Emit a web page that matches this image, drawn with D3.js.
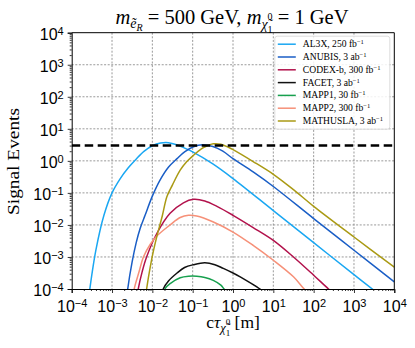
<!DOCTYPE html>
<html>
<head>
<meta charset="utf-8">
<script src="https://cdn.jsdelivr.net/npm/d3@7"></script>
<style>
  body { margin: 0; background: #fff; }
  svg { font-family: "Liberation Serif", "DejaVu Serif", serif; }
</style>
</head>
<body>
<div id="chart"></div>
<script>
// series: c*tau [m] and signal events
const seriesNames = ["AL3X", "ANUBIS", "CODEX-b", "FACET", "MAPP1", "MAPP2", "MATHUSLA"];
const seriesLumi = ["250 fb", "3 ab", "300 fb", "3 ab", "30 fb", "300 fb", "3 ab"];
const seriesColors = ["#1aa7f2", "#1a5ec6", "#b2124c", "#111111", "#17a04e", "#f69078", "#aa9a14"];

const al3xCtau = [2.5e-4, 3.16e-4, 4.0e-4, 6.3e-4, 1e-3, 1.6e-3, 2.5e-3, 4.0e-3, 6.3e-3, 0.01, 0.016, 0.025, 0.04, 0.063, 0.1, 0.316, 1, 10, 100, 1000, 3200];
const al3xEvents = [3.2e-5, 2.8e-4, 1.7e-3, 0.02, 0.1, 0.28, 0.6, 1.15, 2.0, 2.95, 3.6, 3.7, 3.2, 2.5, 1.9, 0.8, 0.28, 0.028, 2.8e-3, 2.8e-4, 8.9e-5];

const anubisCtau = [2.0e-3, 2.45e-3, 3.16e-3, 3.98e-3, 5.0e-3, 6.6e-3, 0.01, 0.0155, 0.025, 0.041, 0.063, 0.105, 0.178, 0.316, 0.56, 1, 3.16, 10, 100, 1000, 10000];
const anubisEvents = [1e-5, 1e-4, 7.1e-4, 2.8e-3, 7.9e-3, 0.02, 0.079, 0.25, 0.63, 1.17, 1.9, 2.75, 3.16, 2.8, 2.0, 1.17, 0.45, 0.158, 0.0158, 1.62e-3, 1.66e-4];

const codexCtau = [3.55e-3, 4.47e-3, 5.6e-3, 7.2e-3, 0.0129, 0.0275, 0.059, 0.105, 0.2, 0.4, 1, 3.16, 10, 31.6, 100, 234, 400];
const codexEvents = [1e-5, 1e-4, 3.5e-4, 1e-3, 5.4e-3, 0.023, 0.049, 0.063, 0.056, 0.038, 0.02, 8.3e-3, 3.3e-3, 1e-3, 2.7e-4, 1e-4, 5.6e-5];

const facetCtau = [0.0166, 0.0186, 0.0251, 0.041, 0.063, 0.105, 0.2, 0.355, 0.575, 1, 1.51, 2.82, 4.68, 6.3];
const facetEvents = [5e-5, 1e-4, 1.78e-4, 3.16e-4, 4.7e-4, 5.75e-4, 6.6e-4, 5.75e-4, 4.4e-4, 3.16e-4, 2.4e-4, 1.5e-4, 1e-4, 7.6e-5];

const mapp1Ctau = [0.0178, 0.0204, 0.0282, 0.049, 0.079, 0.126, 0.2, 0.324, 0.5, 0.6, 0.71];
const mapp1Events = [5e-5, 1e-4, 1.5e-4, 2.24e-4, 2.5e-4, 2.5e-4, 2.3e-4, 1.86e-4, 1.32e-4, 1e-4, 7.9e-5];

const mapp2Ctau = [2.8e-3, 3.55e-3, 4.7e-3, 6.0e-3, 8.9e-3, 0.0129, 0.0275, 0.049, 0.079, 0.126, 0.316, 1, 3.16, 10, 31.6, 56, 89];
const mapp2Events = [1e-5, 1e-4, 3.5e-4, 1e-3, 2.5e-3, 4.5e-3, 0.01, 0.017, 0.02, 0.019, 0.0126, 6.0e-3, 2.3e-3, 7.9e-4, 2.4e-4, 1.05e-4, 5.6e-5];

const mathuslaCtau = [6.0e-3, 7.2e-3, 8.9e-3, 0.0107, 0.0129, 0.0178, 0.0229, 0.0316, 0.049, 0.0708, 0.105, 0.158, 0.224, 0.324, 0.5, 0.794, 1, 3.16, 10, 31.6, 100, 1000, 10000];
const mathuslaEvents = [1.6e-5, 1e-4, 5e-4, 1.6e-3, 4.3e-3, 0.02, 0.076, 0.178, 0.51, 0.93, 1.5, 2.3, 2.9, 3.4, 3.3, 2.6, 2.24, 0.95, 0.38, 0.126, 0.038, 4.2e-3, 4.8e-4];

const seriesCtau = [al3xCtau, anubisCtau, codexCtau, facetCtau, mapp1Ctau, mapp2Ctau, mathuslaCtau];
const seriesEvents = [al3xEvents, anubisEvents, codexEvents, facetEvents, mapp1Events, mapp2Events, mathuslaEvents];

const eventThreshold = 3;
const xDomain = [1e-4, 1e4];
const yDomain = [1e-4, 1e4];
const tickExponents = [-4, -3, -2, -1, 0, 1, 2, 3, 4];

const config = {div: "#chart", width: 415, height: 348, left: 71.7, top: 32.7, right: 20.7, bottom: 59};
const innerW = config.width - config.left - config.right;
const innerH = config.height - config.top - config.bottom;

const svg = d3.select(config.div).append("svg")
  .attr("width", config.width)
  .attr("height", config.height);

const g = svg.append("g").attr("transform", `translate(${config.left},${config.top})`);

const xScale = d3.scaleLog().domain(xDomain).range([0, innerW]);
const yScale = d3.scaleLog().domain(yDomain).range([innerH, 0]);

const majorTicks = tickExponents.map(e => Math.pow(10, e));
const minorTicks = [];
tickExponents.slice(0, -1).forEach(e => {
  for (let m = 2; m < 10; m++) minorTicks.push(m * Math.pow(10, e));
});

// grid
g.append("g").selectAll("line").data(majorTicks.slice(1, -1)).enter().append("line")
  .attr("x1", d => xScale(d)).attr("x2", d => xScale(d))
  .attr("y1", 0).attr("y2", innerH)
  .attr("stroke", "#808080").attr("stroke-width", 0.8).attr("stroke-dasharray", "2,1.6");
g.append("g").selectAll("line").data(majorTicks.slice(1, -1)).enter().append("line")
  .attr("y1", d => yScale(d)).attr("y2", d => yScale(d))
  .attr("x1", 0).attr("x2", innerW)
  .attr("stroke", "#808080").attr("stroke-width", 0.8).attr("stroke-dasharray", "2,1.6");

// curves
svg.append("defs").append("clipPath").attr("id", "plotClip")
  .append("rect").attr("width", innerW).attr("height", innerH);

const line = d3.line()
  .x(d => xScale(d[0]))
  .y(d => yScale(d[1]))
  .curve(d3.curveCatmullRom.alpha(0.5));

const curves = g.append("g").attr("clip-path", "url(#plotClip)");
seriesNames.forEach((name, i) => {
  const pts = seriesCtau[i].map((c, j) => [c, seriesEvents[i][j]]);
  curves.append("path")
    .attr("d", line(pts))
    .attr("fill", "none")
    .attr("stroke", seriesColors[i])
    .attr("stroke-width", 1.5);
});

curves.append("line")
  .attr("x1", xScale(xDomain[0])).attr("x2", xScale(xDomain[1]))
  .attr("y1", yScale(eventThreshold)).attr("y2", yScale(eventThreshold))
  .attr("stroke", "#000").attr("stroke-width", 2.6).attr("stroke-dasharray", "8.5,4.5");

// axes
function supLabel(sel, anchor) {
  sel.each(function(d) {
    const t = d3.select(this);
    const e = Math.round(Math.log10(d));
    t.text(null).attr("text-anchor", anchor).attr("fill", "#000");
    t.append("tspan").text("10");
    t.append("tspan").attr("dy", "-0.45em").attr("font-size", "11px")
      .text(e < 0 ? "\u2212" + (-e) : String(e));
  });
}

const xAxis = g.append("g").attr("transform", `translate(0,${innerH})`)
  .call(d3.axisBottom(xScale).tickValues(majorTicks).tickSize(4).tickPadding(3));
xAxis.selectAll(".tick text").attr("font-size", "16px").attr("dy", "1.0em").call(supLabel, "middle");
g.append("g").attr("transform", `translate(0,${innerH})`)
  .call(d3.axisBottom(xScale).tickValues(minorTicks).tickSize(2).tickFormat(""))
  .select(".domain").remove();

const yAxis = g.append("g")
  .call(d3.axisLeft(yScale).tickValues(majorTicks).tickSize(4).tickPadding(4));
yAxis.selectAll(".tick text").attr("font-size", "16px").attr("dy", "0.42em").call(supLabel, "end");
g.append("g")
  .call(d3.axisLeft(yScale).tickValues(minorTicks).tickSize(2).tickFormat(""))
  .select(".domain").remove();

g.selectAll(".domain").attr("stroke", "#000").attr("stroke-width", 1);
g.selectAll(".tick line").attr("stroke", "#000").attr("stroke-width", 0.8);

// frame top and right
g.append("line").attr("x1", 0).attr("x2", innerW).attr("y1", 0).attr("y2", 0).attr("stroke", "#000");
g.append("line").attr("x1", innerW).attr("x2", innerW).attr("y1", 0).attr("y2", innerH).attr("stroke", "#000");

// legend
const legend = g.append("g").attr("transform", `translate(${innerW - 119.5},3.5)`);
legend.append("rect")
  .attr("width", 115).attr("height", 93).attr("rx", 2.5)
  .attr("fill", "#fff").attr("fill-opacity", 0.85)
  .attr("stroke", "#d4d4d4").attr("stroke-width", 0.8);
seriesNames.forEach((name, i) => {
  const row = legend.append("g").attr("transform", `translate(0,${8 + i * 12.8})`);
  row.append("line").attr("x1", 3).attr("x2", 21).attr("y1", 0).attr("y2", 0)
    .attr("stroke", seriesColors[i]).attr("stroke-width", 1.5);
  const t = row.append("text").attr("x", 28).attr("y", 3).attr("font-size", "9.6px");
  t.append("tspan").text(`${name}, ${seriesLumi[i]}`);
  t.append("tspan").attr("dy", "-0.45em").attr("font-size", "6.6px").text("\u22121");
});

// title
const title = svg.append("text").attr("x", 232).attr("y", 24).attr("text-anchor", "middle")
  .attr("font-size", "20.5px");
title.append("tspan").attr("font-style", "italic").text("m");
title.append("tspan").attr("font-style", "italic").attr("font-size", "14px").attr("dy", 4).text("\u1EBD");
title.append("tspan").attr("font-style", "italic").attr("font-size", "10px").attr("dy", 2.5).text("R");
title.append("tspan").attr("dy", -6.5).text(" = 500 GeV, ");
title.append("tspan").attr("font-style", "italic").text("m");
title.append("tspan").attr("font-style", "italic").attr("font-size", "14px").attr("dy", 5).text("\u03C7\u0303");
title.append("tspan").attr("font-size", "10px").attr("dy", 3.5).text("1");
title.append("tspan").attr("font-size", "10px").attr("dx", -5).attr("dy", -12.5).text("0");
title.append("tspan").attr("dy", 4).text(" = 1 GeV");

// axis labels
const xl = svg.append("text").attr("x", 233).attr("y", 328).attr("text-anchor", "middle")
  .attr("font-size", "17.5px");
xl.append("tspan").text("c");
xl.append("tspan").attr("font-style", "italic").text("\u03C4");
xl.append("tspan").attr("font-style", "italic").attr("font-size", "12.5px").attr("dy", 4).text("\u03C7\u0303");
xl.append("tspan").attr("font-size", "9px").attr("dy", 3.5).text("1");
xl.append("tspan").attr("font-size", "9px").attr("dx", -4.5).attr("dy", -10.5).text("0");
xl.append("tspan").attr("dy", 3).text(" [m]");

svg.append("text")
  .attr("transform", "translate(19,161.5) rotate(-90)")
  .attr("text-anchor", "middle")
  .attr("font-size", "17px")
  .attr("textLength", 107).attr("lengthAdjust", "spacingAndGlyphs")
  .text("Signal Events");
</script>
</body>
</html>
